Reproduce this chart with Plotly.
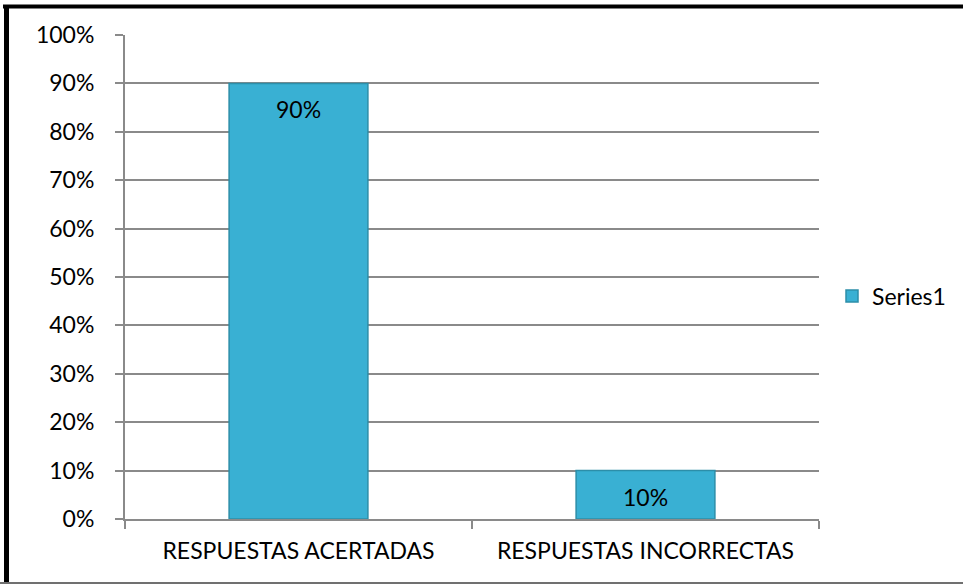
import plotly.graph_objects as go

categories = ["RESPUESTAS ACERTADAS", "RESPUESTAS INCORRECTAS"]
values = [0.90, 0.10]
labels = ["90%", "10%"]
series_name = "Series1"
y_ticks = [i / 10 for i in range(11)]
y_tick_labels = [f"{i*10}%" for i in range(11)]

W, H = 963, 584
L, R, T, B = 125, 144, 35, 65
pw = W - L - R
ph = H - T - B

def px_x(p):
    return (p - L) / pw

def px_y(p):
    return (H - B - p) / ph

FONT = "Lato"
GRID = "#8a8a8a"

fig = go.Figure()
fig.add_trace(go.Bar(
    x=categories, y=values, name=series_name,
    marker=dict(color="#39b0d3", line=dict(color="#2c8ea9", width=1.5)),
    showlegend=True,
))

annotations = [
    dict(x=c, y=v, xref="x", yref="y", text=t, showarrow=False,
         yanchor="top", yshift=-10, font=dict(family=FONT, size=23, color="black"))
    for c, v, t in zip(categories, values, labels)
]

shapes = [
    dict(type="line", xref="paper", yref="paper", x0=px_x(3), x1=px_x(963), y0=px_y(6.5), y1=px_y(6.5),
         line=dict(color="black", width=4)),
    dict(type="line", xref="paper", yref="paper", x0=px_x(6.5), x1=px_x(6.5), y0=px_y(5), y1=px_y(584),
         line=dict(color="black", width=5)),
    dict(type="line", xref="paper", yref="paper", x0=px_x(0), x1=px_x(963), y0=px_y(583), y1=px_y(583),
         line=dict(color="#707070", width=2)),
]

fig.update_layout(
    width=W, height=H,
    margin=dict(l=L, r=R, t=T, b=B, pad=0, autoexpand=False),
    paper_bgcolor="white", plot_bgcolor="white",
    bargap=0.6,
    font=dict(family=FONT, size=23, color="black"),
    showlegend=True,
    legend=dict(x=px_x(832), y=px_y(296), xanchor="left", yanchor="middle",
                font=dict(family=FONT, size=23, color="black"),
                itemwidth=30, bgcolor="rgba(0,0,0,0)"),
    xaxis=dict(showline=True, linecolor=GRID, linewidth=2, ticks="outside",
               tickson="boundaries", ticklen=8, tickcolor=GRID, tickwidth=2,
               showgrid=False, tickfont=dict(family=FONT, size=23),
               ticklabelstandoff=10),
    yaxis=dict(range=[0, 1], tickvals=y_ticks, ticktext=y_tick_labels,
               showline=True, linecolor=GRID, linewidth=2, ticks="outside",
               ticklen=8, tickcolor=GRID, tickwidth=2,
               showgrid=True, gridcolor=GRID, gridwidth=2, zeroline=False,
               tickfont=dict(family=FONT, size=23), ticklabelstandoff=16),
    annotations=annotations,
    shapes=shapes,
)

fig.write_html("out.html", config={"displayModeBar": False},
               post_script="document.body.style.margin='0';")
